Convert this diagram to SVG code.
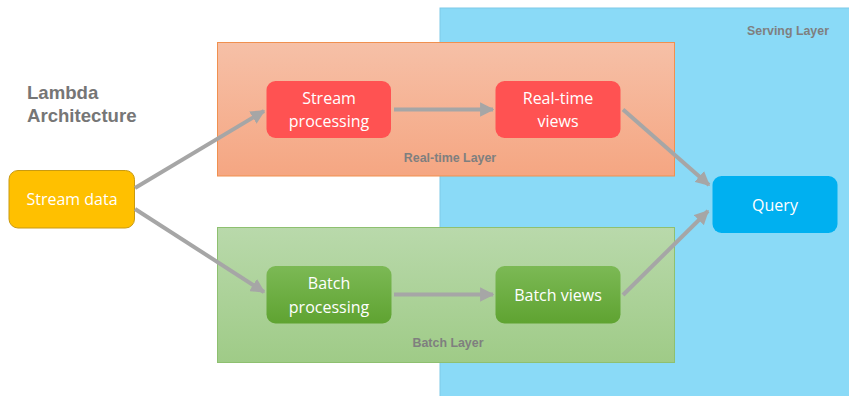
<svg xmlns="http://www.w3.org/2000/svg" width="849" height="396" viewBox="0 0 849 396">
<defs>
<linearGradient id="gRT" x1="0" y1="0" x2="0" y2="1"><stop offset="0" stop-color="#f6c0a7"/><stop offset="1" stop-color="#f5a682"/></linearGradient>
<linearGradient id="gB" x1="0" y1="0" x2="0" y2="1"><stop offset="0" stop-color="#b9d9ab"/><stop offset="1" stop-color="#9fcb87"/></linearGradient>
<linearGradient id="gBN" x1="0" y1="0" x2="0" y2="1"><stop offset="0" stop-color="#7cb955"/><stop offset="1" stop-color="#5fa331"/></linearGradient>
<marker id="ah" viewBox="0 0 10 10" refX="9" refY="5" markerWidth="3.6" markerHeight="3.6" orient="auto" markerUnits="strokeWidth"><path d="M0,0 L10,5 L0,10 z" fill="#a6a6a6"/></marker>
<style>
.node text{font-family:"Open Sans","DejaVu Sans",sans-serif;font-size:16px;fill:#fff;text-anchor:middle}
.lbl{font-family:"Liberation Sans",Arial,sans-serif;font-weight:bold;font-size:12.4px;fill:#7f7f7f;text-anchor:middle}
.conn line{stroke:#a6a6a6;stroke-width:4;marker-end:url(#ah)}
</style>
</defs>
<rect width="849" height="396" fill="#fff"/>
<g id="serving-layer">
<rect x="440" y="8" width="420" height="400" fill="#8adaf7" stroke="#7fc9e8" stroke-width="1"/>
<text class="lbl" x="788" y="35">Serving Layer</text>
</g>
<g id="realtime-layer">
<rect x="217.5" y="42.5" width="457" height="133.5" fill="url(#gRT)" stroke="#f0904f" stroke-width="1"/>
<text class="lbl" x="450" y="162">Real-time Layer</text>
</g>
<g id="batch-layer">
<rect x="217.5" y="227.5" width="457" height="135" fill="url(#gB)" stroke="#8ec070" stroke-width="1"/>
<text class="lbl" x="448" y="347">Batch Layer</text>
</g>
<g id="title"><text font-family="Liberation Sans,Arial,sans-serif" font-weight="bold" font-size="18.6" fill="#767676"><tspan x="27" y="99">Lambda</tspan><tspan x="27" y="121.5">Architecture</tspan></text></g>
<g id="stream-data" class="node">
<rect x="9" y="170.5" width="125.5" height="57.5" rx="9" fill="#ffc000" stroke="#c99a10" stroke-width="1"/>
<text x="72" y="205">Stream data</text>
</g>
<g id="stream-processing" class="node">
<rect x="266.5" y="81" width="124.5" height="57" rx="9" fill="#ff5252"/>
<text x="329" y="104">Stream</text><text x="329" y="126.5">processing</text>
</g>
<g id="realtime-views" class="node">
<rect x="495.5" y="81" width="125" height="57" rx="9" fill="#ff5252"/>
<text x="558" y="104">Real-time</text><text x="558" y="126.5">views</text>
</g>
<g id="batch-processing" class="node">
<rect x="266.5" y="266" width="125" height="57.5" rx="9" fill="url(#gBN)"/>
<text x="329" y="289">Batch</text><text x="329" y="312.5">processing</text>
</g>
<g id="batch-views" class="node">
<rect x="495.5" y="266" width="125" height="57.5" rx="9" fill="url(#gBN)"/>
<text x="558" y="300.5">Batch views</text>
</g>
<g id="query" class="node">
<rect x="712.5" y="176" width="125" height="57" rx="9" fill="#00b0f0"/>
<text x="775" y="210.5">Query</text>
</g>
<g id="connectors" class="conn">
<line x1="135" y1="188" x2="264" y2="111"/>
<line x1="135" y1="209" x2="264" y2="292"/>
<line x1="394" y1="109.5" x2="493" y2="109.5"/>
<line x1="394" y1="294.5" x2="493" y2="294.5"/>
<line x1="623" y1="109.5" x2="709" y2="185"/>
<line x1="623" y1="295" x2="708" y2="211"/>
</g>
</svg>
